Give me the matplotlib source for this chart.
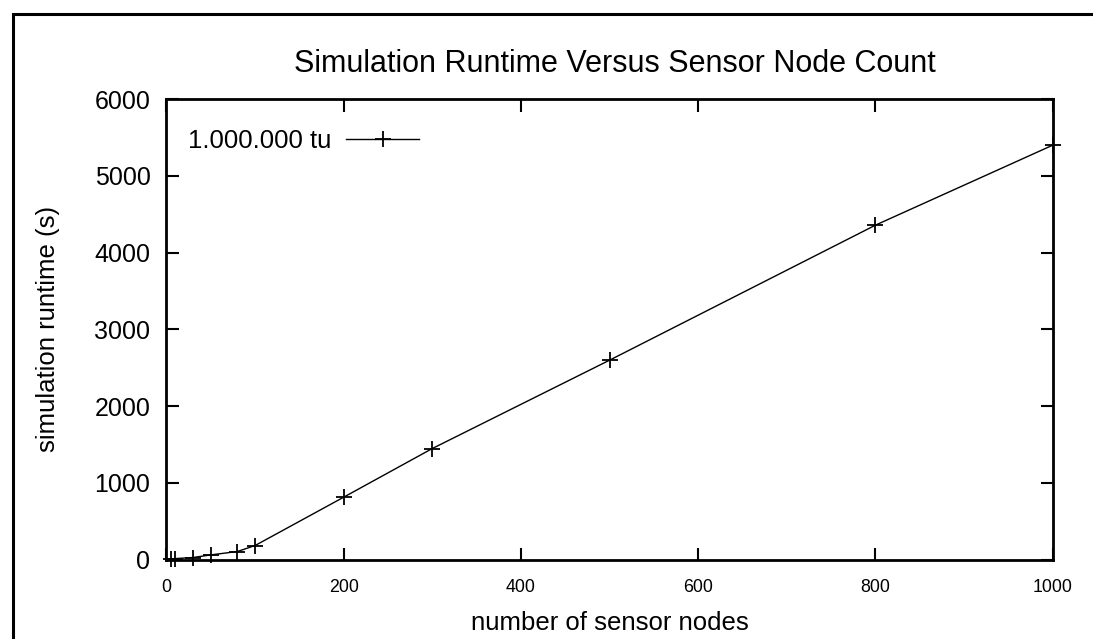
import matplotlib.pyplot as plt
from matplotlib.patches import Rectangle

# Daten
nodes = [5, 10, 30, 50, 80, 100, 200, 300, 500, 800, 1000]
runtime = [5, 12, 26, 60, 104, 182, 812, 1446, 2597, 4356, 5398]
series_label = '1.000.000 tu'

x_ticks = [0, 200, 400, 600, 800, 1000]
y_ticks = [0, 1000, 2000, 3000, 4000, 5000, 6000]

plt.rcParams['font.family'] = ['Liberation Sans', 'DejaVu Sans']

fig = plt.figure(figsize=(10.93, 6.39), dpi=100)
ax = fig.add_axes([0.1523, 0.1244, 0.8107, 0.7206])

# Rahmen um die ganze Grafik (rechts und unten abgeschnitten)
fig.patches.append(Rectangle((12.5 / 1093, -0.2), 1.3, 1.2 - 13.5 / 639,
                             transform=fig.transFigure, fill=False,
                             edgecolor='black', linewidth=2.2))

ax.plot(nodes, runtime, color='black', linewidth=1.0, marker='+',
        markersize=11, markeredgewidth=1.3, label=series_label,
        clip_on=False)

ax.set_xlim(0, 1000)
ax.set_ylim(0, 6000)
ax.set_xticks(x_ticks)
ax.set_yticks(y_ticks)
ax.tick_params(axis='both', direction='in', length=9, width=1.5,
               top=True, right=True)
ax.tick_params(axis='x', labelsize=12.8, pad=14)
ax.tick_params(axis='y', labelsize=18, pad=11.5)
for s in ax.spines.values():
    s.set_linewidth(2)

fig.text(0.5627, 1 - 64 / 639, 'Simulation Runtime Versus Sensor Node Count',
         fontsize=22, ha='center', va='center')

ax.set_xlabel('number of sensor nodes', fontsize=18.5)
ax.set_ylabel('simulation runtime (s)', fontsize=18.5)
ax.xaxis.set_label_coords(0.5, -0.137)
ax.xaxis.label.set_va('center')
ax.yaxis.set_label_coords(-0.1337, 0.5)
ax.yaxis.label.set_va('center')
ax.yaxis.label.set_rotation_mode('anchor')

ax.legend(loc='center left', bbox_to_anchor=(21.5 / 886, 1 - 42 / 461),
          frameon=False, markerfirst=False, fontsize=18.5,
          handlelength=2.84, handletextpad=0.58, borderpad=0,
          borderaxespad=0)

fig.savefig('out.png', dpi=100)
